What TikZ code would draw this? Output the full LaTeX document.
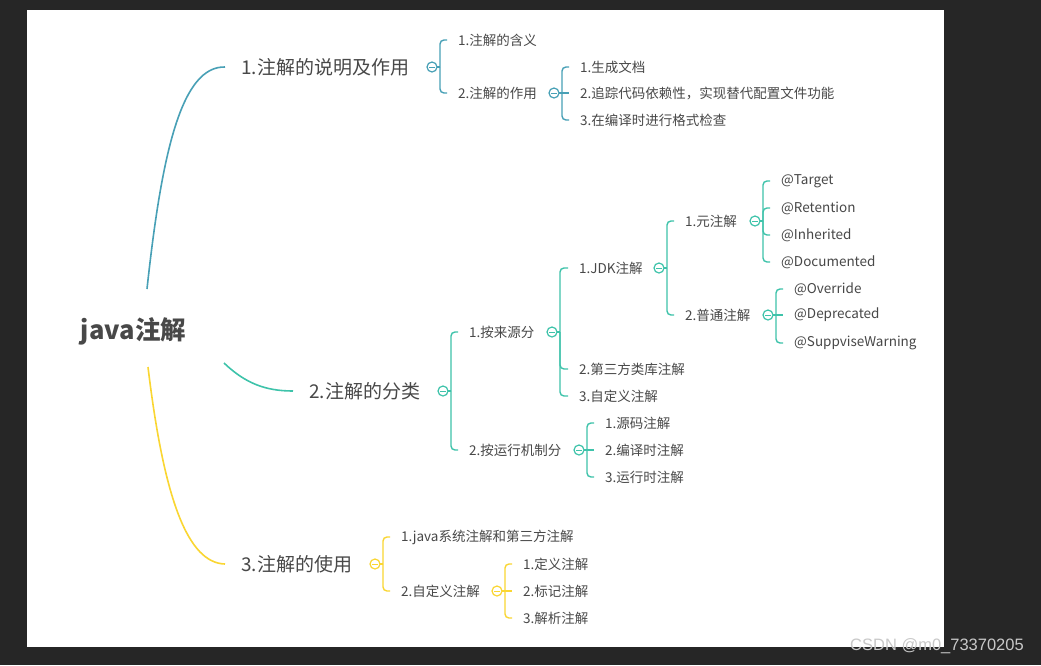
\documentclass[tikz,border=0pt]{standalone}
\usepackage{fontspec}
\setmainfont{Noto Sans CJK SC}
\newfontfamily\wmfont{Liberation Sans}
\definecolor{bgdark}{RGB}{38,38,38}
\definecolor{txt}{RGB}{72,72,72}
\definecolor{cA}{RGB}{72,160,182}
\definecolor{cB}{RGB}{62,195,170}
\definecolor{cC}{RGB}{250,214,50}
\definecolor{wm}{RGB}{200,200,200}
\tikzset{
  lone/.style={anchor=west,inner sep=0pt,text=txt,font=\fontsize{19}{19}\selectfont},
  ltwo/.style={anchor=west,inner sep=0pt,text=txt,font=\fontsize{13.5}{13.5}\selectfont},
  tog/.style={circle,draw=#1,fill=white,line width=1.2pt,minimum size=10pt,inner sep=0pt,outer sep=0pt,
    path picture={\draw[#1,line width=0.9pt] ([xshift=-2.6pt]path picture bounding box.center) -- ([xshift=2.6pt]path picture bounding box.center);}},
  br/.style={draw=#1,line width=1.4pt,rounded corners=4pt},
  mainc/.style={draw=#1,line width=1.6pt},
}
\newcommand{\brk}[3]{\draw[br=#1] ([xshift=3pt]#2.east) |- ([xshift=-11pt]#3.west);}
\newcommand{\stub}[2]{\draw[br=#1] (#2.east) -- ([xshift=3pt]#2.east);}
\begin{document}
\begin{tikzpicture}[x=1pt,y=-1pt]
\fill[bgdark] (0,0) rectangle (1041,665);
\fill[white] (27,10) rectangle (944,647);
\useasboundingbox (0,0) rectangle (1041,665);

% root
\node[inner sep=0pt,text=txt,font=\fontsize{25.5}{25.5}\selectfont\bfseries] (root) at (133.5,331) {java注解};
\coordinate (r1) at (147,289);
\coordinate (r2) at (224,363);
\coordinate (r3) at (148,367);

% level 1
\node[lone] (L1) at (241,67) {1.注解的说明及作用};
\node[lone] (L2) at (309,391) {2.注解的分类};
\node[lone] (L3) at (241,564) {3.注解的使用};

\draw[mainc=cA] (r1) .. controls (162,150) and (182,66) .. ([xshift=-16pt]L1.west);
\draw[mainc=cB] (r2) .. controls (245,383) and (265,391) .. ([xshift=-16pt]L2.west);
\draw[mainc=cC] (r3) .. controls (164,500) and (188,563) .. ([xshift=-16pt]L3.west);

% branch 1
\node[ltwo] (a1) at (458,40) {1.注解的含义};
\node[ltwo] (a2) at (458,93) {2.注解的作用};
\node[ltwo] (a21) at (580,67) {1.生成文档};
\node[ltwo] (a22) at (580,93) {2.追踪代码依赖性，实现替代配置文件功能};
\node[ltwo] (a23) at (580,120) {3.在编译时进行格式检查};
\node[tog=cA] (tA) at (432,67) {};
\node[tog=cA] (tA2) at (554,93) {};
\stub{cA}{tA} \brk{cA}{tA}{a1} \brk{cA}{tA}{a2}
\stub{cA}{tA2} \brk{cA}{tA2}{a21} \draw[br=cA] (tA2.east) -- ([xshift=-11pt]a22.west); \brk{cA}{tA2}{a23}

% branch 2
\node[ltwo] (b1) at (469,332) {1.按来源分};
\node[ltwo] (b2) at (469,450) {2.按运行机制分};
\node[ltwo] (b11) at (579,268) {1.JDK注解};
\node[ltwo] (b12) at (579,369) {2.第三方类库注解};
\node[ltwo] (b13) at (579,396) {3.自定义注解};
\node[ltwo] (b111) at (685,221) {1.元注解};
\node[ltwo] (b112) at (685,315) {2.普通注解};
\node[ltwo] (m1) at (781,181) {@Target};
\node[ltwo] (m2) at (781,208) {@Retention};
\node[ltwo] (m3) at (781,235) {@Inherited};
\node[ltwo] (m4) at (781,262) {@Documented};
\node[ltwo] (n1) at (794,289) {@Override};
\node[ltwo] (n2) at (794,315) {@Deprecated};
\node[ltwo] (n3) at (794,343) {@SuppviseWarning};
\node[ltwo] (b21) at (605,423) {1.源码注解};
\node[ltwo] (b22) at (605,450) {2.编译时注解};
\node[ltwo] (b23) at (605,477) {3.运行时注解};
\node[tog=cB] (tB) at (443,391) {};
\node[tog=cB] (tB1) at (552,332) {};
\node[tog=cB] (tB11) at (659,268) {};
\node[tog=cB] (tB111) at (755,221) {};
\node[tog=cB] (tB112) at (768,315) {};
\node[tog=cB] (tB2) at (579,450) {};
\stub{cB}{tB} \brk{cB}{tB}{b1} \brk{cB}{tB}{b2}
\stub{cB}{tB1} \brk{cB}{tB1}{b11} \brk{cB}{tB1}{b12} \brk{cB}{tB1}{b13}
\stub{cB}{tB11} \brk{cB}{tB11}{b111} \brk{cB}{tB11}{b112}
\stub{cB}{tB111} \brk{cB}{tB111}{m1} \brk{cB}{tB111}{m2} \brk{cB}{tB111}{m3} \brk{cB}{tB111}{m4}
\stub{cB}{tB112} \brk{cB}{tB112}{n1} \draw[br=cB] (tB112.east) -- ([xshift=-11pt]n2.west); \brk{cB}{tB112}{n3}
\stub{cB}{tB2} \brk{cB}{tB2}{b21} \draw[br=cB] (tB2.east) -- ([xshift=-11pt]b22.west); \brk{cB}{tB2}{b23}

% branch 3
\node[ltwo] (c1) at (401,537) {1.java系统注解和第三方注解};
\node[ltwo] (c2) at (401,591) {2.自定义注解};
\node[ltwo] (c21) at (523,564) {1.定义注解};
\node[ltwo] (c22) at (523,591) {2.标记注解};
\node[ltwo] (c23) at (523,618) {3.解析注解};
\node[tog=cC] (tC) at (375,564) {};
\node[tog=cC] (tC2) at (497,591) {};
\stub{cC}{tC} \brk{cC}{tC}{c1} \brk{cC}{tC}{c2}
\stub{cC}{tC2} \brk{cC}{tC2}{c21} \draw[br=cC] (tC2.east) -- ([xshift=-11pt]c22.west); \brk{cC}{tC2}{c23}

% watermark
\node[inner sep=0pt,text=wm,font=\wmfont\fontsize{16.5}{16.5}\selectfont] (wmk) at (937,646) {CSDN @m0\_73370205};
\end{tikzpicture}
\end{document}
